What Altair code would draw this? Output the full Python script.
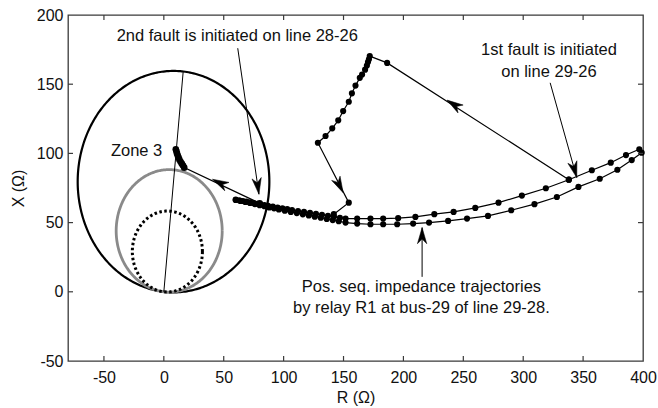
import altair as alt
import pandas as pd
import numpy as np

# ---------------- data ----------------
R_DOMAIN = [-80, 400]
X_DOMAIN = [-50, 200]
x_ticks = [-50, 0, 50, 100, 150, 200, 250, 300, 350, 400]
y_ticks = [-50, 0, 50, 100, 150, 200]

# mho zones: reach (ohm) along the relay characteristic angle (deg)
zone_names = ["Zone 1", "Zone 2", "Zone 3"]
zone_reach = [58.5, 88.5, 160.0]
char_angle = 84.2

# impedance trajectory, upper branch (R, X in ohm)
upper_R = [396.9, 385.8, 373.1, 357.3, 338.1, 318.9, 298.9, 279.4, 260.0, 241.9,
           225.8, 210.0, 195.6, 183.1, 172.5, 161.4, 151.7, 147.0, 142.0, 137.0,
           132.0, 127.0, 122.0, 117.0, 112.0, 107.0, 103.0, 99.0, 95.0, 91.0,
           87.0, 84.0, 81.0, 78.0, 75.0, 72.0, 69.0, 66.0, 63.0, 60.0]
upper_X = [103.0, 98.8, 93.3, 87.8, 81.0, 74.8, 69.5, 64.4, 60.6, 57.7,
           56.1, 54.1, 53.2, 52.9, 52.9, 52.9, 52.9, 53.5, 54.2, 54.9,
           55.6, 56.3, 57.0, 57.7, 58.4, 59.1, 59.7, 60.3, 60.9, 61.5,
           62.1, 62.6, 63.1, 63.6, 64.1, 64.6, 65.1, 65.6, 66.1, 66.6]

# impedance trajectory, lower branch
lower_R = [398.9, 390.6, 378.6, 363.9, 346.1, 328.1, 309.4, 290.0, 270.6, 253.1,
           237.3, 221.4, 208.1, 194.8, 183.1, 172.5, 161.4, 151.7, 146.0, 141.0,
           136.0, 131.0, 126.0, 121.0, 116.0, 111.0, 106.0, 101.0, 96.0, 92.0,
           88.0, 84.0, 80.0, 76.0, 72.0, 68.0, 64.0, 60.0]
lower_X = [100.5, 95.2, 88.2, 81.7, 75.8, 68.5, 63.3, 58.9, 54.8, 52.9,
           51.2, 50.0, 49.3, 48.8, 48.8, 48.8, 49.3, 50.0, 51.0, 51.8,
           52.6, 53.5, 54.3, 55.2, 56.0, 56.9, 57.7, 58.6, 59.5, 60.3,
           61.0, 61.8, 62.6, 63.4, 64.2, 64.9, 65.6, 66.3]

# swing after 1st fault
swing_R = [338.1, 186.4, 171.9, 171.2, 170.4, 169.5, 168.0, 165.5, 163.6, 160.0,
           157.0, 154.4, 149.7, 145.6, 140.6, 135.0, 128.6, 154.4, 141.9]
swing_X = [81.0, 165.4, 170.3, 168.0, 166.0, 163.5, 160.5, 157.0, 154.6, 149.0,
           143.4, 137.3, 130.6, 123.9, 118.1, 112.6, 107.7, 64.4, 56.1]

# entry into zone 3 after 2nd fault
z3_R = [80.0, 17.0, 16.0, 15.0, 14.0, 13.0, 12.3, 11.6, 11.0, 10.5, 10.0]
z3_X = [64.0, 89.7, 91.2, 92.6, 94.0, 95.5, 97.0, 98.5, 100.0, 101.5, 103.0]

# annotation arrows (tail -> tip)
ann_tail_R = [61.7, 322.5, 215.6]
ann_tail_X = [176.0, 151.0, 10.8]
ann_tip_R = [79.4, 344.7, 215.6]
ann_tip_X = [70.5, 82.5, 46.4]

# arrowheads on the trajectory (tip, and a point behind it on the path)
mid_tip_R = [236.4, 149.7, 40.6]
mid_tip_X = [138.5, 71.6, 81.3]
mid_from_R = [338.1, 128.6, 80.0]
mid_from_X = [81.0, 107.7, 64.0]

# texts
txt = ["2nd fault is initiated on line 28-26", "1st fault is initiated", "on line 29-26",
       "Pos. seq. impedance trajectories", "by relay R1 at bus-29 of line 29-28."]
txt_R = [61.3, 321.5, 321.5, 215.0, 215.0]
txt_X = [184.7, 174.6, 158.9, 3.6, -11.5]
zone_label = "Zone 3"
zone_label_R = -44.2
zone_label_X = 101.7

# ---------------- layout ----------------
W, H = 575, 346
FONT = "Liberation Sans"
sx = W / (R_DOMAIN[1] - R_DOMAIN[0])
sy = H / (X_DOMAIN[1] - X_DOMAIN[0])

xs = alt.Scale(domain=R_DOMAIN, nice=False, zero=False)
ys = alt.Scale(domain=X_DOMAIN, nice=False, zero=False)

AX_STYLE = dict(grid=False, domain=False, ticks=False, tickSize=0, labelFlush=False,
                labelOverlap=False, labelFont=FONT, labelFontSize=16, labelColor="#111",
                labelExpr="datum.value + ''",
                titleFont=FONT, titleFontSize=16, titleColor="#111", titleFontWeight="normal")
XAX = alt.Axis(values=x_ticks, title="R (Ω)", labelPadding=8, titleY=36,
               titleBaseline="middle", **AX_STYLE)
YAX = alt.Axis(values=y_ticks, title="X (Ω)", labelPadding=5, titleX=-50, titleY=H / 2,
               titleAngle=270, titleAlign="center", titleBaseline="middle", **AX_STYLE)


def XR(field="R"):
    return alt.X(f"{field}:Q", scale=xs, axis=XAX)


def YX(field="X"):
    return alt.Y(f"{field}:Q", scale=ys, axis=YAX)


# circles
theta = np.radians(char_angle)
circ_rows = []
for name, reach in zip(zone_names, zone_reach):
    r = reach / 2.0
    cR, cX = r * np.cos(theta), r * np.sin(theta)
    for i, t in enumerate(np.linspace(0, 2 * np.pi, 361)):
        circ_rows.append({"zone": name, "i": i, "R": cR + r * np.cos(t), "X": cX + r * np.sin(t)})
circ = pd.DataFrame(circ_rows)

zone3 = alt.Chart(circ[circ.zone == "Zone 3"]).mark_line(color="black", strokeWidth=2.2).encode(
    x=XR(), y=YX(), order="i:Q")
zone2 = alt.Chart(circ[circ.zone == "Zone 2"]).mark_line(color="#8a8a8a", strokeWidth=2.8).encode(
    x=XR(), y=YX(), order="i:Q")
zone1 = alt.Chart(circ[circ.zone == "Zone 1"]).mark_line(color="black", strokeWidth=3,
                                                           strokeDash=[2.5, 2.5]).encode(
    x=XR(), y=YX(), order="i:Q")

ang_df = pd.DataFrame({"i": [0, 1], "R": [0, zone_reach[2] * np.cos(theta)],
                       "X": [0, zone_reach[2] * np.sin(theta)]})
ang_line = alt.Chart(ang_df).mark_line(color="black", strokeWidth=1).encode(x=XR(), y=YX(), order="i:Q")


def traj(Rs, Xs, size=38):
    df = pd.DataFrame({"i": range(len(Rs)), "R": Rs, "X": Xs})
    ln = alt.Chart(df).mark_line(color="black", strokeWidth=1.2).encode(x=XR(), y=YX(), order="i:Q")
    pt = alt.Chart(df).mark_circle(color="black", opacity=1, size=size).encode(x=XR(), y=YX())
    return ln + pt


t_upper = traj(upper_R, upper_X)
t_lower = traj(lower_R, lower_X)
t_swing = traj(swing_R, swing_X)
t_z3 = traj(z3_R, z3_X, size=44)

# annotation arrow shafts
ann_df = pd.DataFrame({"R": ann_tail_R, "X": ann_tail_X, "R2": ann_tip_R, "X2": ann_tip_X})
ann_lines = alt.Chart(ann_df).mark_rule(color="black", strokeWidth=1).encode(
    x=XR(), y=YX(), x2="R2:Q", y2="X2:Q")


def heading(fr, fx, tr, tx):
    dx = (tr - fr) * sx
    dy = (tx - fx) * sy
    return float(np.degrees(np.arctan2(dx, dy)) % 360)


heads = []
for fr, fx, tr, tx in zip(ann_tail_R, ann_tail_X, ann_tip_R, ann_tip_X):
    heads.append({"R": tr, "X": tx, "ang": heading(fr, fx, tr, tx)})
for fr, fx, tr, tx in zip(mid_from_R, mid_from_X, mid_tip_R, mid_tip_X):
    heads.append({"R": tr, "X": tx, "ang": heading(fr, fx, tr, tx)})
heads_df = pd.DataFrame(heads)
ARROW = "M0,0 L0.55,1.9 L0,1.35 L-0.55,1.9 Z"
arrowheads = alt.Chart(heads_df).mark_point(shape=ARROW, filled=True, fill="black", stroke="black",
                                            strokeWidth=0.5, opacity=1, size=290).encode(
    x=XR(), y=YX(), angle=alt.Angle("ang:Q", scale=None))

# texts
txt_df = pd.DataFrame({"t": txt, "R": txt_R, "X": txt_X})
texts = alt.Chart(txt_df).mark_text(font=FONT, fontSize=16.5, color="#111", align="center",
                                    baseline="middle").encode(x=XR(), y=YX(), text="t:N")
ztxt = alt.Chart(pd.DataFrame({"t": [zone_label], "R": [zone_label_R], "X": [zone_label_X]})).mark_text(
    font=FONT, fontSize=16.5, color="#111", align="left", baseline="middle").encode(x=XR(), y=YX(), text="t:N")

# inward ticks on the box
xt = pd.DataFrame({"R": x_ticks[:-1]})
yt = pd.DataFrame({"X": y_ticks[1:-1]})
TK = 5
tick_col = "#3a3a3a"
tb = alt.Chart(xt).mark_rule(color=tick_col, strokeWidth=1.2).encode(
    x=XR(), y=alt.value(H), y2=alt.value(H - TK))
tt = alt.Chart(xt).mark_rule(color=tick_col, strokeWidth=1.2).encode(
    x=XR(), y=alt.value(0), y2=alt.value(TK))
tl = alt.Chart(yt).mark_rule(color=tick_col, strokeWidth=1.2).encode(
    y=YX(), x=alt.value(0), x2=alt.value(TK))
tr_ = alt.Chart(yt).mark_rule(color=tick_col, strokeWidth=1.2).encode(
    y=YX(), x=alt.value(W), x2=alt.value(W - TK))

chart = alt.layer(
    zone3, zone2, zone1, ang_line,
    t_upper, t_lower, t_swing, t_z3,
    ann_lines, arrowheads, texts, ztxt,
    tb, tt, tl, tr_,
).properties(
    width=W, height=H,
    autosize="none",
    background="white",
    padding={"left": 68, "top": 15, "right": 15, "bottom": 47},
).configure_view(
    stroke="#3a3a3a", strokeWidth=1.3
)

chart.save("out.html", embed_options={"renderer": "svg", "actions": False})
